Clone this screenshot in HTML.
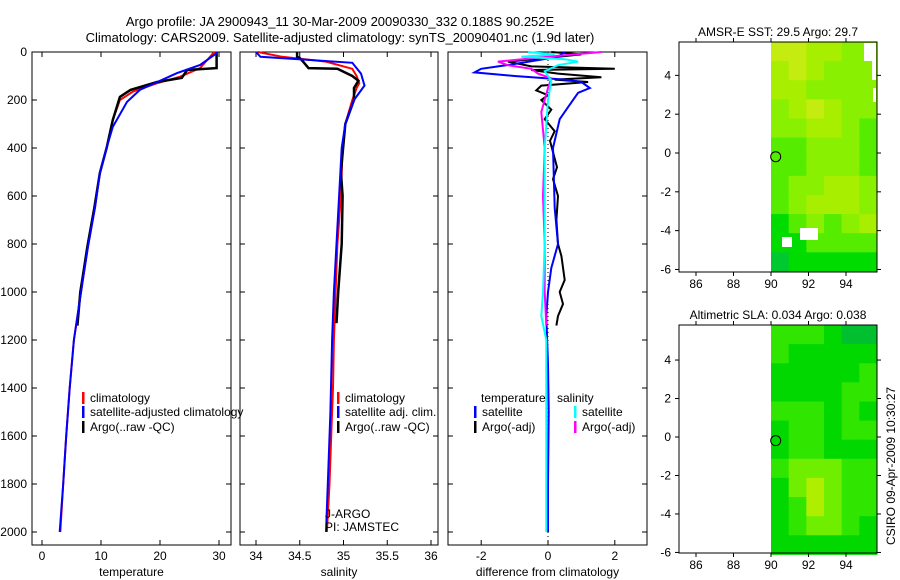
<!DOCTYPE html>
<html><head><meta charset="utf-8"><style>
body{margin:0;background:#fff;width:900px;height:580px;overflow:hidden}
svg{display:block;font-family:"Liberation Sans",sans-serif}
text{fill:#000;font-size:12px}
</style></head><body>
<svg id="c" width="900" height="580">
<text x="340" y="26" text-anchor="middle" style="font-size:13px">Argo profile: JA 2900943_11 30-Mar-2009 20090330_332 0.188S 90.252E</text>
<text x="340" y="42" text-anchor="middle" style="font-size:13px">Climatology: CARS2009. Satellite-adjusted climatology: synTS_20090401.nc (1.9d later)</text>
</svg>
<script>
// ---- data ----
const depthTicks=[0,200,400,600,800,1000,1200,1400,1600,1800,2000];
const tempTicks=[0,10,20,30];
const salTicks=[34,34.5,35,35.5,36];
const diffTicks=[-2,0,2];
const tempClimD=[0,5,67,103,130,165,200,283,395,505,645,810,937,1200,1400,1600,1800,2000];
const tempClimV=[29.3,29,26.8,23.4,19.5,15.4,13.2,12,11,9.8,9,7.8,7,5.4,4.7,4.1,3.6,3.1];
const tempSatD=[0,5,54,88,158,208,312,395,505,645,810,937,1200,1400,1600,1800,2000];
const tempSatV=[29.6,29.6,26.8,22.9,16.6,14.4,12,11,9.8,9,7.8,7,5.4,4.7,4.1,3.6,3.0];
const tempArgoD=[0,5,67,75,108,125,158,187,283,395,505,645,810,937,1000,1140];
const tempArgoV=[29.6,29.6,29.6,24.6,23.7,19.5,15,13.2,12,11,9.8,8.9,7.7,6.9,6.5,6.0];
const salClimD=[0,20,40,70,100,130,150,200,300,400,600,800,1000,1200,1400,1600,1800,2000];
const salClimV=[34.02,34.3,34.8,35.1,35.15,35.18,35.15,35.1,35.02,34.99,34.97,34.93,34.91,34.89,34.88,34.86,34.84,34.81];
const salSatD=[0,20,33,45,90,140,160,200,300,400,600,800,1000,1200,1500,1800,2000];
const salSatV=[34.0,34.05,34.6,35.1,35.2,35.24,35.2,35.12,35.02,34.98,34.95,34.92,34.89,34.87,34.85,34.82,34.8];
const salArgoD=[0,20,25,45,67,70,100,120,150,200,300,500,600,800,1000,1130];
const salArgoV=[34.47,34.47,34.5,34.55,34.6,34.93,35.1,35.17,35.12,35.12,35.02,34.97,34.99,34.98,34.94,34.92];
const dTSatD=[0,20,50,70,85,100,115,125,150,170,230,280,400,650,800,900,1000,1100,1300,1500,1800,2000];
const dTSatV=[0.5,0.3,-1.0,-2.0,-2.2,-1,0.5,1.0,1.25,0.9,0.6,0.35,0.15,0.2,0.3,0.1,0,-0.05,0,0.02,0,0];
const dTArgoD=[0,10,20,40,60,70,75,90,105,115,125,140,160,180,200,240,280,330,370,480,530,600,700,800,850,950,1000,1050,1100,1140];
const dTArgoV=[0.1,1.0,0.3,-1.2,-0.5,2.0,-0.5,0.3,1.6,0.2,1.2,-0.2,-0.35,0,-0.2,0.1,-0.1,0.2,0.06,0.27,0.15,0.3,0.25,0.3,0.4,0.5,0.35,0.45,0.3,0.25];
const dSSatD=[0,10,20,30,40,55,80,120,200,400,800,1000,1100,1200,2000];
const dSSatV=[-0.6,0.2,-0.8,0.5,0.9,0.3,-0.1,0.1,0,-0.1,-0.1,-0.15,-0.2,-0.05,-0.05];
const dSArgoD=[0,10,20,40,55,70,90,110,150,250,400,600,800,1000,1140];
const dSArgoV=[1.6,0.8,0,-1.5,-1.2,-0.5,-0.3,0.1,0,-0.2,-0.1,-0.15,-0.1,-0.1,-0.05];
const lonTicks=[86,88,90,92,94];
const latTicks=[4,2,0,-2,-4,-6];
const sstGrid=[[5,5,4,4,3,3],[4,5,4,3,3,3],[4,4,3,3,3,3],[3,4,5,4,3,3],[3,3,4,4,3,2],[2,2,3,3,3,2],[2,2,3,3,3,2],[2,3,3,4,4,3],[2,3,4,4,4,3],[1,2,3,2,3,4],[1,1,2,2,2,2],[0,1,1,1,1,1]];
const slaGrid=[[2,2,2,1,0,0],[2,1,1,1,1,1],[1,1,1,1,1,2],[1,1,1,1,2,2],[2,2,2,1,2,1],[1,2,2,1,2,2],[1,2,2,1,1,1],[2,3,3,3,2,2],[1,3,4,3,2,2],[1,2,4,3,2,2],[1,2,3,3,2,1],[1,1,1,1,1,1]];
// ---- drawing ----
const NS='http://www.w3.org/2000/svg',S=document.getElementById('c');
function mk(t,a,p){const e=document.createElementNS(NS,t);for(const k in a)e.setAttribute(k,a[k]);(p||S).appendChild(e);return e;}
const yD=d=>52+d*0.24;
function panel(x0,x1,xs,ticks,fmt,label,name){
  const f=mk('rect',{x:x0,y:52,width:x1-x0,height:493,fill:'none',stroke:'#000'});
  
  
  ticks.forEach(t=>{const x=xs(t);mk('line',{x1:x,x2:x,y1:545,y2:540,stroke:'#000'});mk('line',{x1:x,x2:x,y1:52,y2:57,stroke:'#000'});
    const tx=mk('text',{x:x,y:560,'text-anchor':'middle'});tx.textContent=fmt(t);
    
    });
  depthTicks.forEach(d=>{mk('line',{x1:x0,x2:x0+5,y1:yD(d),y2:yD(d),stroke:'#000'});mk('line',{x1:x1,x2:x1-5,y1:yD(d),y2:yD(d),stroke:'#000'});});
  const l=mk('text',{x:(x0+x1)/2,y:576,'text-anchor':'middle'});l.textContent=label;
  
  
}
function line(D,V,xs,col,name,w){
  const p=mk('polyline',{points:D.map((d,i)=>xs(V[i]).toFixed(1)+','+yD(d).toFixed(1)).join(' '),fill:'none',stroke:col,'stroke-width':w||2});
  
  
}
function leg(x,y,col,txt,name){mk('rect',{x:x,y:y-10,width:2.5,height:12,fill:col});const t=mk('text',{x:x+8,y:y});t.textContent=txt;
  
  }
depthTicks.forEach(d=>{const t=mk('text',{x:27,y:yD(d)+4,'text-anchor':'end'});t.textContent=d;
  
  });
const xT=v=>42+v*5.9, xS=v=>256+(v-34)*87.5, xF=v=>548+v*33.4;
panel(32,231,xT,tempTicks,t=>t,'temperature','temperature-panel');
line(tempClimD,tempClimV,xT,'#f00','temp-climatology-line');
line(tempArgoD,tempArgoV,xT,'#000','temp-argo-line',2.5);
line(tempSatD,tempSatV,xT,'#00f','temp-satellite-line');
leg(82,402,'#f00','climatology','legend-climatology');
leg(82,416,'#00f','satellite-adjusted climatology','legend-satellite');
leg(82,431,'#000','Argo(..raw -QC)','legend-argo');
panel(240,438,xS,salTicks,t=>t,'salinity','salinity-panel');
line(salClimD,salClimV,xS,'#f00','sal-climatology-line');
line(salArgoD,salArgoV,xS,'#000','sal-argo-line',2.5);
line(salSatD,salSatV,xS,'#00f','sal-satellite-line');
leg(337,402,'#f00','climatology','legend-sal-climatology');
leg(337,416,'#00f','satellite adj. clim.','legend-sal-satellite');
leg(337,431,'#000','Argo(..raw -QC)','legend-sal-argo');
[['J-ARGO',518],['PI: JAMSTEC',531]].forEach(a=>{const t=mk('text',{x:325,y:a[1]});t.textContent=a[0];
  
  });
panel(448,647,xF,diffTicks,t=>t,'difference from climatology','difference-panel');
mk('line',{x1:548,x2:548,y1:52,y2:545,stroke:'#000','stroke-dasharray':'1,3'});
line(dTArgoD,dTArgoV,xF,'#000','diff-temp-argo-line');
line(dTSatD,dTSatV,xF,'#00f','diff-temp-satellite-line');
line(dSArgoD,dSArgoV,xF,'#f0f','diff-sal-argo-line');
line(dSSatD,dSSatV,xF,'#0ff','diff-sal-satellite-line');
{const t=mk('text',{x:481,y:402});t.textContent='temperature';
 const u=mk('text',{x:557,y:402});u.textContent='salinity';}
leg(474,416,'#00f','satellite','legend-diff-temp-satellite');
leg(474,431,'#000','Argo(-adj)','legend-diff-temp-argo');
leg(574,416,'#0ff','satellite','legend-diff-sal-satellite');
leg(574,431,'#f0f','Argo(-adj)','legend-diff-sal-argo');
// maps
function map(top,bot,lat0y,grid,cols,title,name){
  const pxLat=(bot-top)/11.85, lx=v=>696+(v-86)*18.75, ly=v=>lat0y-v*pxLat;
  const cw=(877-771)/6, ch=(ly(-6.1)-top)/12;
  grid.forEach((row,r)=>row.forEach((v,c)=>{if(v===9)return;
    const cell=mk('rect',{x:771+c*cw,y:top+r*ch,width:cw+0.5,height:ch+0.5,fill:cols[v]});
    
    }));
  const f=mk('rect',{x:679,y:top,width:198,height:bot-top,fill:'none',stroke:'#000'});
  
  
  lonTicks.forEach(v=>{mk('line',{x1:lx(v),x2:lx(v),y1:bot,y2:bot+4,stroke:'#000'});mk('line',{x1:lx(v),x2:lx(v),y1:top,y2:top-4,stroke:'#000'});
    const t=mk('text',{x:lx(v),y:bot+16,'text-anchor':'middle'});t.textContent=v;
    
    });
  latTicks.forEach(v=>{mk('line',{x1:679,x2:675,y1:ly(v),y2:ly(v),stroke:'#000'});mk('line',{x1:877,x2:881,y1:ly(v),y2:ly(v),stroke:'#000'});
    const t=mk('text',{x:671,y:ly(v)+4,'text-anchor':'end'});t.textContent=v;
    
    });
  const o=mk('circle',{cx:lx(90.25),cy:ly(-0.19),r:5,fill:'none',stroke:'#000'});
  
  
  const t=mk('text',{x:778,y:top-6,'text-anchor':'middle'});t.textContent=title;
  
  
  return ly;
}
map(42,272,153,sstGrid,['#00c830','#00dc00','#55ec00','#88f000','#a8ee00','#c4ec10'],'AMSR-E SST: 29.5 Argo: 29.7','sst-map');
mk('rect',{x:864,y:43,width:12,height:18,fill:'#fff'});
mk('rect',{x:872,y:60,width:4,height:20,fill:'#fff'});
mk('rect',{x:873,y:88,width:3,height:14,fill:'#fff'});
mk('rect',{x:800,y:228,width:18,height:12,fill:'#fff'});
mk('rect',{x:782,y:237,width:10,height:10,fill:'#fff'});
map(325,553,437,slaGrid,['#00c030','#00d800','#30e600','#70ee00','#b0ee00'],'Altimetric SLA: 0.034 Argo: 0.038','sla-map');
const st=mk('text',{x:0,y:0,transform:'translate(895,545) rotate(-90)'});st.textContent='CSIRO 09-Apr-2009 10:30:27';


</script>
</body></html>
